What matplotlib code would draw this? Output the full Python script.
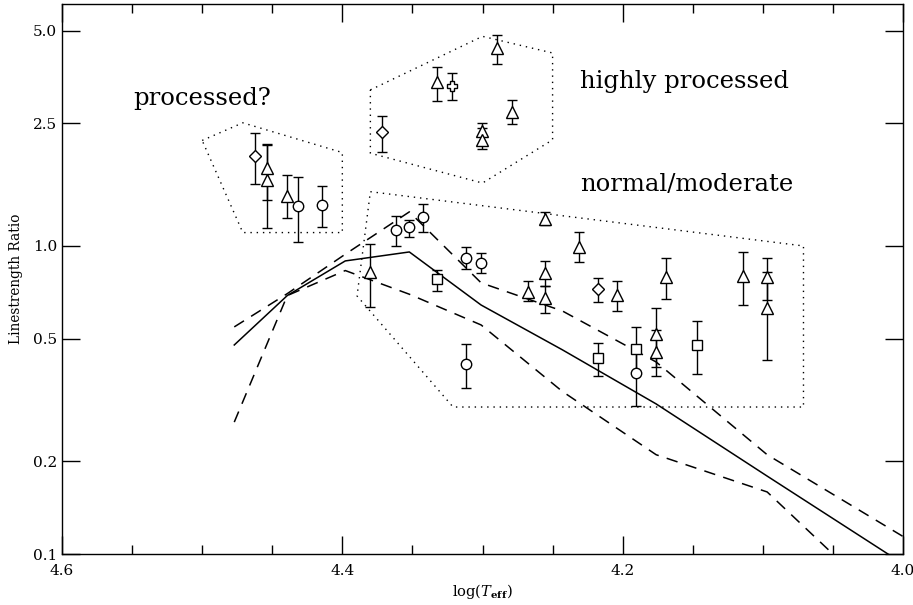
import matplotlib
matplotlib.use("Agg")
import matplotlib.pyplot as plt
from matplotlib.ticker import FixedLocator, MultipleLocator, NullLocator, NullFormatter

plt.rcParams['font.family'] = ['DejaVu Serif']
plt.rcParams['mathtext.fontset'] = 'dejavuserif'

# ---- model curves (log Teff grid) ----
model_logt = [4.4771, 4.4393, 4.3979, 4.3522, 4.3010, 4.2430, 4.1761, 4.0969, 4.0000]
model_mid = [0.477, 0.690, 0.894, 0.956, 0.643, 0.460, 0.307, 0.179, 0.093]
model_high = [0.546, 0.700, 0.940, 1.290, 0.759, 0.615, 0.420, 0.210, 0.114]
model_low = [0.268, 0.690, 0.832, 0.697, 0.554, 0.337, 0.210, 0.159, 0.061]

# ---- observed stars: (logT, ratio, err_low_value, err_high_value) ----
tri_x = [4.454, 4.454, 4.4395, 4.3323, 4.2899, 4.2787, 4.3006, 4.3006,
         4.3803, 4.2554, 4.2673, 4.2554, 4.2554, 4.231, 4.2043, 4.1691,
         4.1762, 4.1762, 4.1144, 4.0973, 4.0973]
tri_y = [1.79, 1.64, 1.45, 3.40, 4.38, 2.73, 2.36, 2.21,
         0.826, 1.22, 0.71, 0.819, 0.677, 0.995, 0.693, 0.791,
         0.518, 0.454, 0.799, 0.791, 0.628]
tri_lo = [1.41, 1.14, 1.23, 2.96, 3.91, 2.49, 2.13, 2.07,
          0.632, 1.17, 0.663, 0.743, 0.607, 0.89, 0.617, 0.671,
          0.406, 0.379, 0.643, 0.668, 0.427]
tri_hi = [2.15, 2.13, 1.70, 3.82, 4.83, 2.98, 2.51, 2.42,
          1.015, 1.29, 0.772, 0.894, 0.743, 1.11, 0.772, 0.916,
          0.628, 0.534, 0.958, 0.912, 0.826]

circ_x = [4.4316, 4.4147, 4.3617, 4.3522, 4.3422, 4.3118, 4.3011, 4.3118, 4.1905]
circ_y = [1.35, 1.36, 1.13, 1.155, 1.245, 0.912, 0.883, 0.413, 0.386]
circ_lo = [1.03, 1.15, 1.00, 1.07, 1.11, 0.84, 0.815, 0.345, 0.302]
circ_hi = [1.67, 1.57, 1.25, 1.21, 1.37, 0.99, 0.947, 0.48, 0.477]

sq_x = [4.3327, 4.2174, 4.1905, 4.1468]
sq_y = [0.78, 0.432, 0.463, 0.477]
sq_lo = [0.716, 0.378, 0.39, 0.383]
sq_hi = [0.836, 0.483, 0.546, 0.572]

dia_x = [4.462, 4.3715, 4.2174]
dia_y = [1.96, 2.34, 0.724]
dia_lo = [1.59, 2.02, 0.657]
dia_hi = [2.32, 2.64, 0.785]

plus_x = [4.322]
plus_y = [3.31]
plus_lo = [2.98]
plus_hi = [3.65]

# ---- grouping outlines ----
poly_processed_x = [4.50, 4.471, 4.40, 4.40, 4.471, 4.50]
poly_processed_y = [2.20, 2.51, 2.01, 1.105, 1.105, 2.20]
poly_high_x = [4.38, 4.30, 4.25, 4.25, 4.30, 4.38, 4.38]
poly_high_y = [3.21, 4.79, 4.23, 2.21, 1.60, 2.00, 3.21]
poly_normal_x = [4.38, 4.071, 4.071, 4.321, 4.3895, 4.38]
poly_normal_y = [1.50, 1.00, 0.30, 0.30, 0.688, 1.50]

labels = ["processed?", "highly processed", "normal/moderate"]
label_x = [4.549, 4.2305, 4.2305]
label_y = [3.02, 3.41, 1.578]

yticks = [0.1, 0.2, 0.5, 1.0, 2.5, 5.0]
yticklabels = ["0.1", "0.2", "0.5", "1.0", "2.5", "5.0"]
xticks = [4.6, 4.4, 4.2, 4.0]

fig = plt.figure(figsize=(9.13, 6.05), dpi=100)
ax = fig.add_axes([62/913, 51/605, 841/913, 550/605])

ax.set_yscale('log')
ax.set_xlim(4.6, 4.0)
ax.set_ylim(0.1, 6.1)

lw = 1.1
ax.plot(model_logt, model_mid, color='black', lw=lw)
ax.plot(model_logt, model_high, color='black', lw=lw, linestyle=(0, (7.5, 5.5)))
ax.plot(model_logt, model_low, color='black', lw=lw, linestyle=(0, (7.5, 5.5)))

for px, py in [(poly_processed_x, poly_processed_y), (poly_high_x, poly_high_y),
               (poly_normal_x, poly_normal_y)]:
    ax.plot(px, py, color='black', lw=1.0, linestyle=(0, (1, 3.5)))

def draw(xs, ys, lo, hi, marker, ms):
    yerr = [[y - l for y, l in zip(ys, lo)], [h - y for y, h in zip(ys, hi)]]
    ax.errorbar(xs, ys, yerr=yerr, fmt='none', ecolor='black', elinewidth=1.0,
                capsize=3.6, capthick=1.0, zorder=3)
    ax.plot(xs, ys, linestyle='none', marker=marker, ms=ms, mfc='white',
            mec='black', mew=1.0, zorder=4)

draw(tri_x, tri_y, tri_lo, tri_hi, '^', 8)
draw(circ_x, circ_y, circ_lo, circ_hi, 'o', 7.5)
draw(sq_x, sq_y, sq_lo, sq_hi, 's', 7)
draw(dia_x, dia_y, dia_lo, dia_hi, 'D', 6)
draw(plus_x, plus_y, plus_lo, plus_hi, 'P', 7.5)

for t, x, y in zip(labels, label_x, label_y):
    ax.text(x, y, t, fontsize=17.5, ha='left', va='center')

ax.yaxis.set_major_locator(FixedLocator(yticks))
ax.yaxis.set_minor_locator(NullLocator())
ax.yaxis.set_minor_formatter(NullFormatter())
ax.set_yticklabels(yticklabels)
ax.xaxis.set_major_locator(FixedLocator(xticks))
ax.xaxis.set_minor_locator(MultipleLocator(0.05))
ax.set_xticklabels(["4.6", "4.4", "4.2", "4.0"])

ax.tick_params(which='both', direction='in', top=True, right=True, labelsize=11,
               width=1.0, colors='black')
ax.tick_params(which='major', length=13)
ax.tick_params(which='minor', length=6.5)
ax.tick_params(axis='x', pad=7)
for s in ax.spines.values():
    s.set_linewidth(1.0)

ax.set_ylabel("Linestrength Ratio", fontsize=9.8)
ax.set_xlabel(r"log($T_{\mathbf{eff}}$)", fontsize=10.5, labelpad=3)
ax.yaxis.set_label_coords(-0.046, 0.5)

fig.savefig("out.png", dpi=100)
